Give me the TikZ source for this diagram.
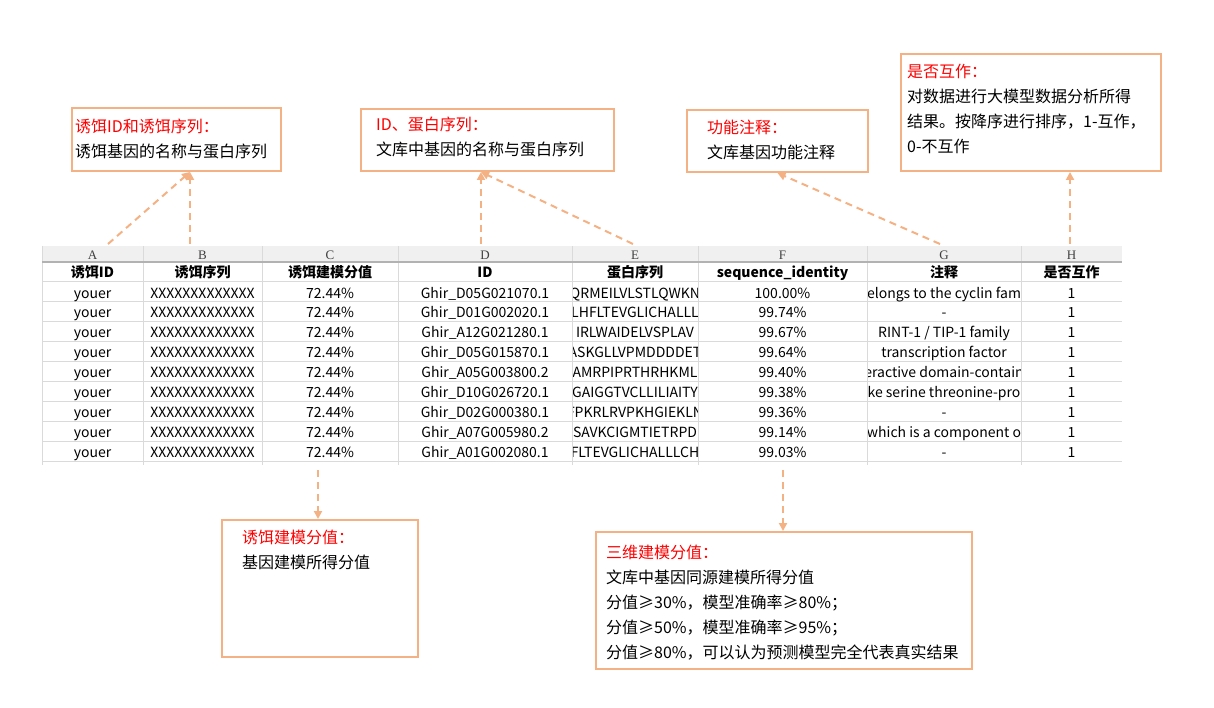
\documentclass[tikz,border=0pt]{standalone}
\usepackage{fontspec}
\setmainfont{Noto Sans CJK SC}
\newfontfamily\letterfont{Liberation Serif}
\usetikzlibrary{arrows.meta}
\definecolor{peach}{RGB}{244,177,131}
\definecolor{cellgray}{RGB}{218,218,218}
\definecolor{barfill}{RGB}{240,240,240}
\begin{document}
\begin{tikzpicture}[x=1pt,y=-1pt]

% definitions
\tikzstyle{note} = [rectangle, draw=peach, line width=2pt, inner sep=0pt, anchor=north west]
\tikzstyle{notetext} = [anchor=base west, align=left, inner sep=0pt, font=\fontsize{16}{25}\selectfont]
\tikzstyle{letter} = [anchor=base, inner sep=0pt, text=black!75, font=\letterfont\fontsize{13}{13}\selectfont]
\tikzstyle{head} = [anchor=base, inner sep=0pt, font=\bfseries\fontsize{14}{14}\selectfont]
\tikzstyle{column} = [anchor=base, inner sep=0pt, align=center, font=\fontsize{14}{19.9}\selectfont]
\tikzstyle{cellline} = [draw=cellgray, line width=1pt]
\tikzstyle{arrow} = [-{Triangle[length=8pt,width=8pt]}, draw=peach, line width=2pt, dash pattern=on 7pt off 5pt]

\useasboundingbox (0,0) rectangle (1214,708);

% the sheet (a node with several lines sits on its last baseline)
\fill [barfill] (42,246) rectangle (1122,262);
\draw [cellline] (42,246) -- (42,465) (143,246) -- (143,465) (262,246) -- (262,465) (398,246) -- (398,465)
  (572,246) -- (572,465) (698,246) -- (698,465) (867,246) -- (867,465) (1021,246) -- (1021,465);
\draw [cellline] (42,282) -- (1122,282) (42,301.9) -- (1122,301.9) (42,321.8) -- (1122,321.8)
  (42,341.7) -- (1122,341.7) (42,361.6) -- (1122,361.6) (42,381.5) -- (1122,381.5)
  (42,401.4) -- (1122,401.4) (42,421.3) -- (1122,421.3) (42,441.2) -- (1122,441.2) (42,461.1) -- (1122,461.1);
\draw [draw=black!30, line width=1.5pt] (42,262) -- (1122,262);

\node (letA) [letter] at (92.5,259.5) {A};
\node (letB) [letter] at (202.5,259.5) {B};
\node (letC) [letter] at (330,259.5) {C};
\node (letD) [letter] at (485,259.5) {D};
\node (letE) [letter] at (635,259.5) {E};
\node (letF) [letter] at (782.5,259.5) {F};
\node (letG) [letter] at (944,259.5) {G};
\node (letH) [letter] at (1071.5,259.5) {H};

\node (headA) [head] at (92.5,278) {诱饵ID};
\node (headB) [head] at (202.5,278) {诱饵序列};
\node (headC) [head] at (330,278) {诱饵建模分值};
\node (headD) [head] at (485,278) {ID};
\node (headE) [head] at (635,278) {蛋白序列};
\node (headF) [head] at (782.5,278) {sequence\_identity};
\node (headG) [head] at (944,278) {注释};
\node (headH) [head] at (1071.5,278) {是否互作};

\node (colA) [column] at (92.5,457.2) {youer\\youer\\youer\\youer\\youer\\youer\\youer\\youer\\youer};
\node (colB) [column] at (202.5,457.2) {XXXXXXXXXXXXX\\XXXXXXXXXXXXX\\XXXXXXXXXXXXX\\XXXXXXXXXXXXX\\XXXXXXXXXXXXX\\XXXXXXXXXXXXX\\XXXXXXXXXXXXX\\XXXXXXXXXXXXX\\XXXXXXXXXXXXX};
\node (colC) [column] at (330,457.2) {72.44\%\\72.44\%\\72.44\%\\72.44\%\\72.44\%\\72.44\%\\72.44\%\\72.44\%\\72.44\%};
\node (colD) [column] at (485,457.2) {Ghir\_D05G021070.1\\Ghir\_D01G002020.1\\Ghir\_A12G021280.1\\Ghir\_D05G015870.1\\Ghir\_A05G003800.2\\Ghir\_D10G026720.1\\Ghir\_D02G000380.1\\Ghir\_A07G005980.2\\Ghir\_A01G002080.1};
\begin{scope}
\clip (573,283) rectangle (697,462);
\node (colE) [column] at (635,457.2) {QRMEILVLSTLQWKN\\LHFLTEVGLICHALLL\\IRLWAIDELVSPLAV\\ASKGLLVPMDDDDET\\AMRPIPRTHRHKML\\GAIGGTVCLLILIAITY\\FPKRLRVPKHGIEKLN\\SAVKCIGMTIETRPD\\FLTEVGLICHALLLCH};
\end{scope}
\node (colF) [column] at (782.5,457.2) {100.00\%\\99.74\%\\99.67\%\\99.64\%\\99.40\%\\99.38\%\\99.36\%\\99.14\%\\99.03\%};
\begin{scope}
\clip (868,283) rectangle (1020,462);
\node (colG) [column] at (944,457.2) {elongs to the cyclin fam\\-\\RINT-1 / TIP-1 family\\transcription factor\\eractive domain-contain\\ke serine threonine-pro\\-\\which is a component o\\-};
\end{scope}
\node (colH) [column] at (1071.5,457.2) {1\\1\\1\\1\\1\\1\\1\\1\\1};

% the notes
\node (baitbox) [note, minimum width=209, minimum height=63] at (71,107) {};
\node (baittext) [notetext] at (75,158) {\textcolor{red}{诱饵ID和诱饵序列：}\\诱饵基因的名称与蛋白序列};

\node (idbox) [note, minimum width=253, minimum height=62] at (360,108) {};
\node (idtext) [notetext] at (376,156) {\textcolor{red}{ID、蛋白序列：}\\文库中基因的名称与蛋白序列};

\node (notebox) [note, minimum width=181, minimum height=62] at (686,109) {};
\node (notetext) [notetext] at (707,159) {\textcolor{red}{功能注释：}\\文库基因功能注释};

\node (interbox) [note, minimum width=260, minimum height=117] at (900,53) {};
\node (intertext) [notetext] at (907,153) {\textcolor{red}{是否互作：}\\对数据进行大模型数据分析所得\\结果。按降序进行排序，1-互作，\\0-不互作};

\node (scorebox) [note, minimum width=196, minimum height=137] at (221,519) {};
\node (scoretext) [notetext] at (242,568) {\textcolor{red}{诱饵建模分值：}\\基因建模所得分值};

\node (identbox) [note, minimum width=376, minimum height=137] at (595,531) {};
\node (identtext) [notetext] at (606,658) {\textcolor{red}{三维建模分值：}\\文库中基因同源建模所得分值\\分值≥30\%，模型准确率≥80\%；\\分值≥50\%，模型准确率≥95\%；\\分值≥80\%，可以认为预测模型完全代表真实结果};

% the pointers
\coordinate (baitcolA) at (108,244);
\coordinate (baitcolB) at (190,244);
\coordinate (idcolD) at (481,244);
\coordinate (idcolE) at (633,244);
\coordinate (notecolG) at (940,244);
\coordinate (intercolH) at (1070,244);
\coordinate (scorecolC) at (318,470);
\coordinate (identcolF) at (783,470);

\draw [arrow] (baitcolA) -- (baitcolB |- baitbox.south);
\draw [arrow] (baitcolB) -- (baitcolB |- baitbox.south);
\draw [arrow] (idcolD) -- (idcolD |- idbox.south);
\draw [arrow] (idcolE) -- (idcolD |- idbox.south);
\draw [arrow] (notecolG) -- (notebox.south);
\draw [arrow] (intercolH) -- (intercolH |- interbox.south);
\draw [arrow] (scorecolC) -- (scorecolC |- scorebox.north);
\draw [arrow] (identcolF) -- (identcolF |- identbox.north);

\end{tikzpicture}
\end{document}
